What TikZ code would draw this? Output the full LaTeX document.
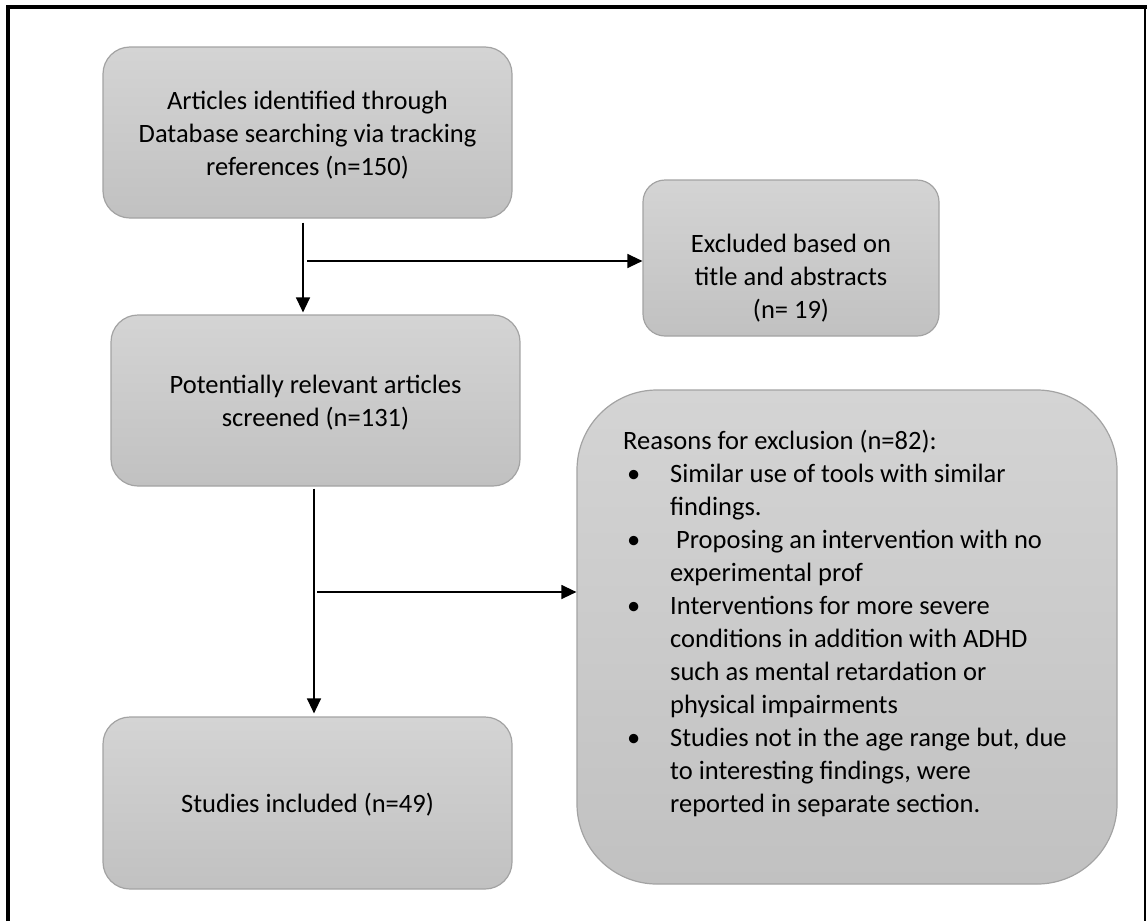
\documentclass[tikz,border=0pt]{standalone}
\usepackage{fontspec}
\setmainfont{Carlito}
\usetikzlibrary{arrows.meta}
\definecolor{boxtop}{HTML}{D4D4D4}
\definecolor{boxbot}{HTML}{C1C1C1}
\definecolor{boxline}{HTML}{A3A3A3}
\newcommand{\bulletitem}{\makebox[47pt][l]{\hspace{4pt}\textbullet}}
\newcommand{\contline}{\makebox[47pt][l]{}}
\begin{document}
\begin{tikzpicture}[x=1pt,y=-1pt,
  flowbox/.style={draw=boxline, line width=1.2pt, top color=boxtop, bottom color=boxbot,
    rounded corners=#1, inner sep=0pt},
  flowbox/.default=27pt,
  plaintext/.style={inner sep=0pt, font=\fontsize{26.5}{33}\selectfont},
  arr/.style={line width=1.3pt, -{Triangle[length=15pt,width=14pt]}},
  link/.style={line width=1.3pt}]
\useasboundingbox (0,0) rectangle (1147,921);

% page frame
\draw[line width=4pt] (8,921) -- (8,7) -- (1147,7);
\draw[line width=2.5pt] (1145,7) -- (1145,921);

% boxes and their texts
\node[flowbox, minimum width=409pt, minimum height=171pt] (ident) at (307.5,132.5) {};
\node[plaintext, align=center] (identtxt) at (307.5,135)
  {Articles identified through\\Database searching via tracking\\references (n=150)};
\node[flowbox=22pt, minimum width=296pt, minimum height=156pt] (excl) at (791,258) {};
\node[plaintext, align=center] (excltxt) at (791,278)
  {Excluded based on\\title and abstracts\\(n= 19)};
\node[flowbox, minimum width=409pt, minimum height=171pt] (screen) at (315.5,400.5) {};
\node[plaintext, align=center] (screentxt) at (315.5,403)
  {Potentially relevant articles\\screened (n=131)};
\node[flowbox, minimum width=409pt, minimum height=172pt] (incl) at (307.5,803) {};
\node[plaintext, align=center] (incltxt) at (307.5,805)
  {Studies included (n=49)};
\node[flowbox=80pt, minimum width=540pt, minimum height=494pt] (reasons) at (847,637) {};
\node[plaintext, align=left, anchor=north west] (reasontxt) at (623,430)
  {Reasons for exclusion (n=82):\\
   \bulletitem Similar use of tools with similar\\
   \contline findings.\\
   \bulletitem\ Proposing an intervention with no\\
   \contline experimental prof\\
   \bulletitem Interventions for more severe\\
   \contline conditions in addition with ADHD\\
   \contline such as mental retardation or\\
   \contline physical impairments\\
   \bulletitem Studies not in the age range but, due\\
   \contline to interesting findings, were\\
   \contline reported in separate section.};

% connectors
\coordinate (j1) at (307,261);
\coordinate (j2) at (317,592);
\draw[arr, shorten <=4pt, shorten >=2pt] ([xshift=-4.5pt]ident.south) -- ([xshift=-4.5pt]ident.south |- screen.north);
\draw[arr] (j1) -- (j1 -| excl.west);
\draw[arr, shorten <=2pt, shorten >=3pt] ([xshift=-1.5pt]screen.south) -- ([xshift=-1.5pt]screen.south |- incl.north);
\draw[arr] (j2) -- (j2 -| reasons.west);
\end{tikzpicture}
\end{document}
